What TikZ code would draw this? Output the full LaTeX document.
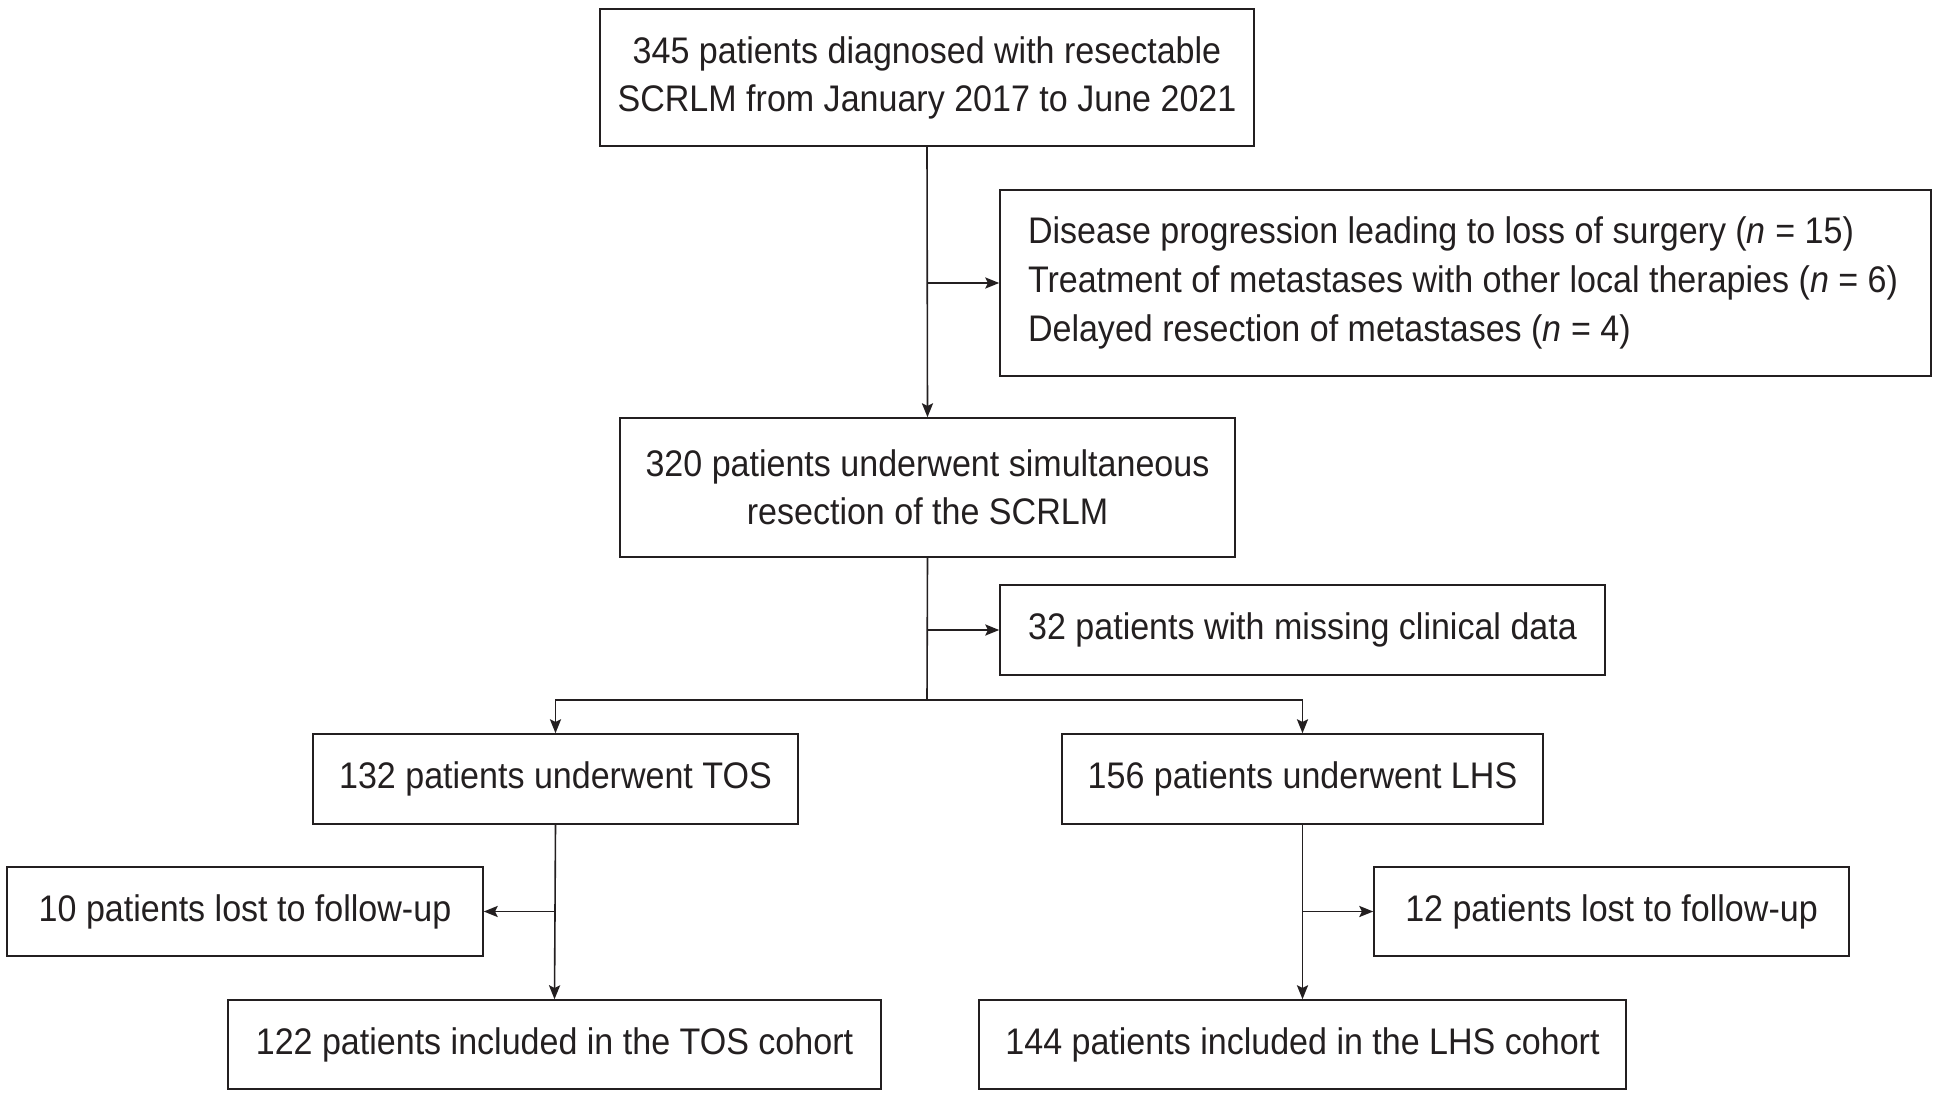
\documentclass[tikz,border=0pt]{standalone}
\usepackage{fontspec}
\setmainfont{Liberation Sans}[FakeStretch=0.92]
\usetikzlibrary{arrows.meta,positioning}
\definecolor{ink}{RGB}{35,31,32}
\begin{document}
\begin{tikzpicture}[x=0.5pt,y=-0.5pt,
  every node/.style={font=\fontsize{18.5}{24}\selectfont, text=ink},
  box/.style={draw=ink, line width=0.8pt, rectangle, inner sep=0pt, align=center},
  conn/.style={draw=ink, line width=0.8pt},
  arr/.style={conn, -{Stealth[length=7pt,width=5.6pt,inset=1.4pt]}}]
\useasboundingbox (0,0) rectangle (1945,1098);
\node[box, minimum width=327pt, minimum height=68.5pt] (b1) at (927,77.5)
  {345 patients diagnosed with resectable\\SCRLM from January 2017 to June 2021};
\node[box, minimum width=465.5pt, minimum height=93pt] (b2) at (1465.5,283)
  {\parbox{437.5pt}{\fontsize{18.5}{24.3}\selectfont\raggedright
  \mbox{Disease progression leading to loss of surgery (\textit{n} = 15)}\\
  \mbox{Treatment of metastases with other local therapies (\textit{n} = 6)}\\
  \mbox{Delayed resection of metastases (\textit{n} = 4)}}};
\node[box, minimum width=307.5pt, minimum height=69.5pt] (b3) at (927.5,487.5)
  {320 patients underwent simultaneous\\resection of the SCRLM};
\node[box, minimum width=302.5pt, minimum height=45pt] (b4) at (1302.5,630)
  {32 patients with missing clinical data};
\node[box, minimum width=242.5pt, minimum height=45pt] (tos) at (555.5,779)
  {132 patients underwent TOS};
\node[box, minimum width=240.5pt, minimum height=45pt] (lhs) at (1302.5,779)
  {156 patients underwent LHS};
\node[box, minimum width=238pt, minimum height=44.5pt] (l10) at (245,911.5)
  {10 patients lost to follow-up};
\node[box, minimum width=237.5pt, minimum height=44.5pt] (l12) at (1611.5,911.5)
  {12 patients lost to follow-up};
\node[box, minimum width=326.5pt, minimum height=44.5pt] (tosc) at (554.5,1044.5)
  {122 patients included in the TOS cohort};
\node[box, minimum width=323.5pt, minimum height=44.5pt] (lhsc) at (1302.5,1044.5)
  {144 patients included in the LHS cohort};
% connectors
\coordinate (j1) at (927,283);
\coordinate (j2) at (927,630);
\coordinate (s) at (927,700);
\coordinate (sl) at (555.5,700);
\coordinate (sr) at (1302.5,700);
\coordinate (j3) at (555.5,911.5);
\coordinate (j4) at (1302.5,911.5);
\draw[arr] (b1.south) -- (b3.north);
\draw[arr] (j1) -- (b2.west);
\draw[conn] (b3.south) -- (s);
\draw[arr] (j2) -- (b4.west);
\draw[arr] (s) -- (sl) -- (tos.north);
\draw[arr] (s) -- (sr) -- (lhs.north);
\draw[arr] (tos.south) -- (tosc.north);
\draw[arr] (j3) -- (l10.east);
\draw[arr] (lhs.south) -- (lhsc.north);
\draw[arr] (j4) -- (l12.west);
\end{tikzpicture}
\end{document}
